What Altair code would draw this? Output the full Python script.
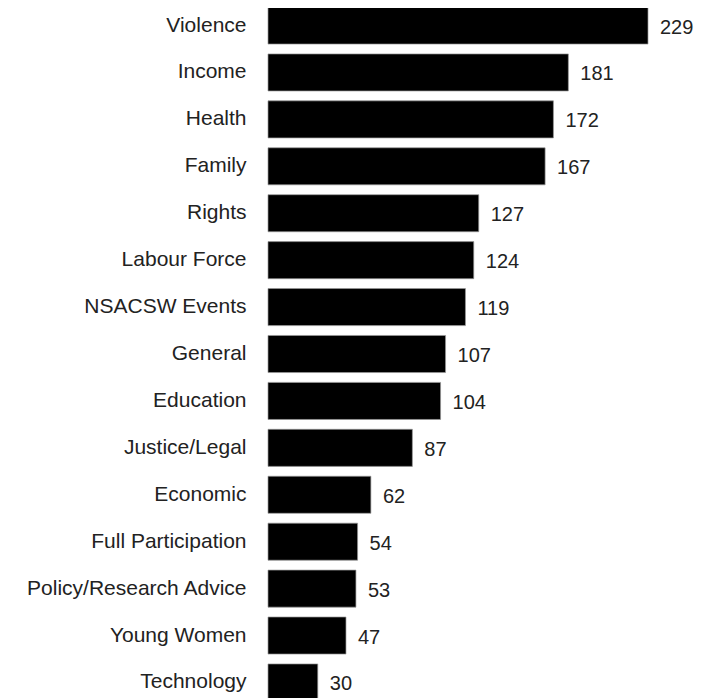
import altair as alt
import pandas as pd

categories = ["Violence", "Income", "Health", "Family", "Rights", "Labour Force",
              "NSACSW Events", "General", "Education", "Justice/Legal", "Economic",
              "Full Participation", "Policy/Research Advice", "Young Women", "Technology"]
counts = [229, 181, 172, 167, 127, 124, 119, 107, 104, 87, 62, 54, 53, 47, 30]

df = pd.DataFrame({"topic": categories, "count": counts})

FONT = "Liberation Sans"

y = alt.Y("topic:N", sort=categories, title=None,
          scale=alt.Scale(paddingInner=0.21, paddingOuter=0, range=[-1, 693]),
          axis=alt.Axis(domain=False, ticks=False, labelPadding=22, labelFontSize=21,
                        labelFont=FONT, labelColor="#222", labelLimit=300))
x = alt.X("count:Q", title=None, scale=alt.Scale(domain=[0, 229], nice=False, zero=True),
          axis=None)

bars = alt.Chart(df).mark_bar(color="black", stroke="#999", strokeWidth=0.7).encode(x=x, y=y)
labels = alt.Chart(df).mark_text(align="left", baseline="middle", dx=12, dy=2,
                                 fontSize=20, font=FONT, color="#222").encode(
    x=x, y=y, text="count:Q")

chart = (bars + labels).properties(
    width=380, height=690,
    autosize=alt.AutoSizeParams(type="none"),
    padding={"left": 260, "top": 0, "right": 46, "bottom": 0},
).configure_view(stroke=None)

chart.save("out.html", embed_options={"renderer": "svg", "actions": False})
